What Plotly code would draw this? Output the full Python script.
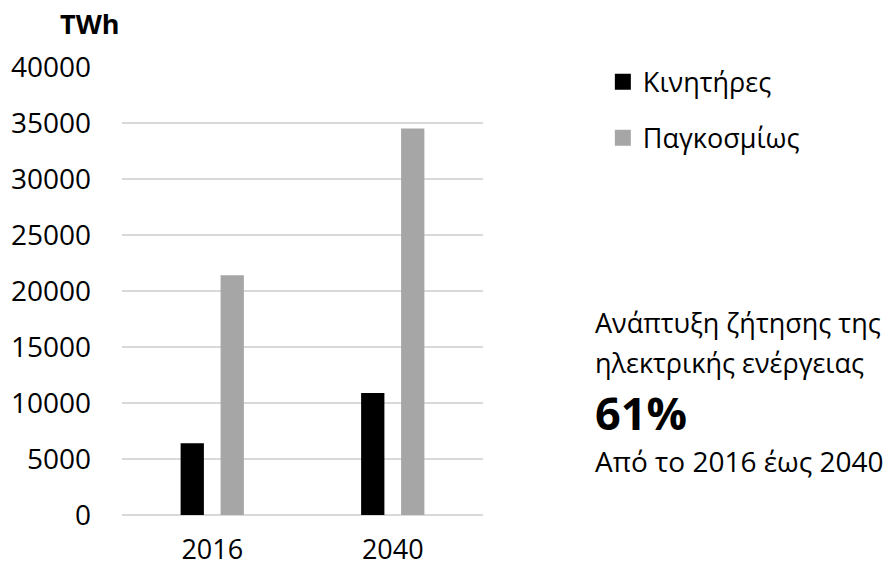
import plotly.graph_objects as go

categories = ["2016", "2040"]
kinitires = [6400, 10900]
pagkosmios = [21400, 34500]
series_names = ["Κινητήρες", "Παγκοσμίως"]
series_colors = ["#000000", "#a6a6a6"]
y_ticks = [0, 5000, 10000, 15000, 20000, 25000, 30000, 35000, 40000]

FONT = "Open Sans"

fig = go.Figure()
for name, vals, col in zip(series_names, [kinitires, pagkosmios], series_colors):
    fig.add_trace(go.Bar(x=categories, y=vals, name=name, marker_color=col,
                         marker_line_width=0, showlegend=False))
# legend entries with larger square symbols
for i, (name, col) in enumerate(zip(series_names, series_colors)):
    fig.add_trace(go.Scatter(x=[None], y=[None], mode="markers", name=name,
                             legendgroup="g%d" % i,
                             marker=dict(symbol="square", size=17, color=col)))

fig.update_layout(
    width=892, height=568,
    margin=dict(l=122, r=409, t=67, b=53, autoexpand=False),
    paper_bgcolor="white", plot_bgcolor="white",
    font=dict(family=FONT, color="#000000"),
    barmode="group", bargap=0.557, bargroupgap=0.4175,
    legend=dict(x=1.332, y=1.021, xanchor="left", yanchor="top",
                font=dict(size=27, family=FONT), tracegroupgap=18,
                bgcolor="rgba(0,0,0,0)"),
    xaxis=dict(type="category", showgrid=False, showline=False, zeroline=False,
               tickfont=dict(size=27), ticks="", ticklabelstandoff=16,
               automargin=False),
    yaxis=dict(range=[0, 40000], tickvals=y_ticks, ticktext=[str(v) for v in y_ticks],
               showgrid=True, gridcolor="#d9d9d9", gridwidth=1.5,
               zeroline=True, zerolinecolor="#d9d9d9", zerolinewidth=1.5,
               showline=False, ticks="", tickfont=dict(size=28),
               ticklabelstandoff=30, automargin=False),
    annotations=[
        dict(text="<b>TWh</b>", xref="paper", yref="paper", x=-0.0914, y=1.096,
             xanchor="center", yanchor="middle", showarrow=False,
             font=dict(size=27, family=FONT)),
        dict(text="Ανάπτυξη ζήτησης της", xref="paper", yref="paper", x=1.3047, y=0.4308,
             xanchor="left", yanchor="middle", showarrow=False, font=dict(size=27)),
        dict(text="ηλεκτρικής ενέργειας", xref="paper", yref="paper", x=1.3047, y=0.3415,
             xanchor="left", yanchor="middle", showarrow=False, font=dict(size=27)),
        dict(text="<b>61%</b>", xref="paper", yref="paper", x=1.3047, y=0.2299,
             xanchor="left", yanchor="middle", showarrow=False, font=dict(size=45)),
        dict(text="Από το 2016 έως 2040", xref="paper", yref="paper", x=1.3047, y=0.1205,
             xanchor="left", yanchor="middle", showarrow=False, font=dict(size=28)),
    ],
)

fig.write_html("out.html", config={"displayModeBar": False},
               post_script="document.body.style.margin='0px';document.body.style.overflow='hidden';")
